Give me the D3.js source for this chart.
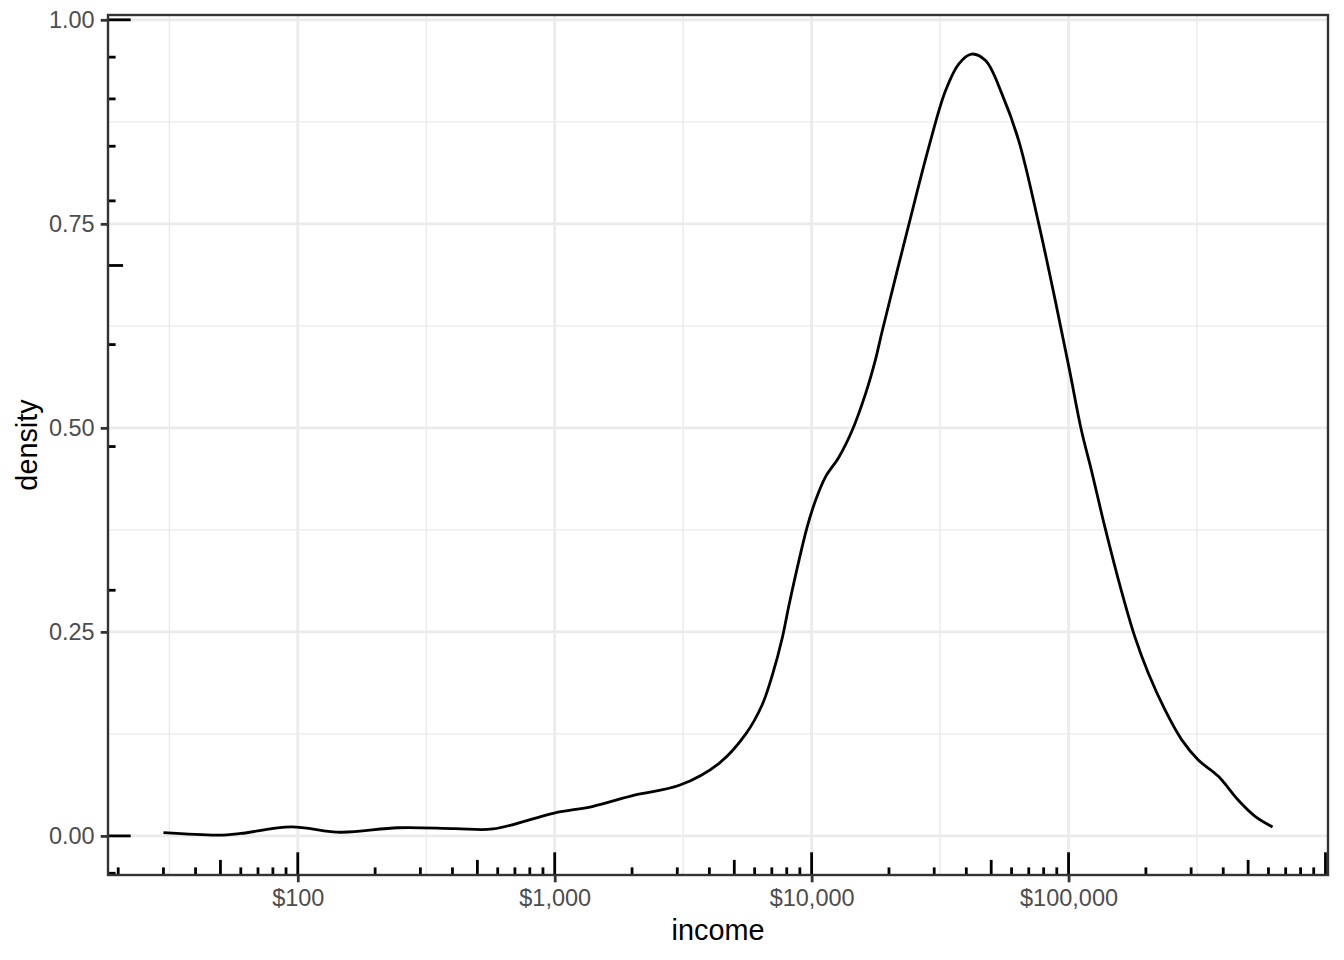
<!DOCTYPE html>
<html>
<head>
<meta charset="utf-8">
<script src="https://cdn.jsdelivr.net/npm/d3@7"></script>
<style>
  body { margin: 0; background: #fff; }
  svg { display: block; font-family: "Liberation Sans", Arial, sans-serif; }
  .axis text { fill: #4D4D4D; font-size: 23.5px; }
  .axis line { stroke: #333333; stroke-width: 2.8px; }
  .axis path { display: none; }
</style>
</head>
<body>
<svg></svg>
<script>
// density of income
var income = [30, 49, 60, 94, 147, 246, 410, 575, 995, 1400, 2042, 3055, 4365, 5546,
  6427, 7031, 7691, 8166, 8933, 9616, 10351, 11324, 12764, 14388, 16218, 17701, 18836,
  23933, 28576, 33189, 37411, 41879, 47534, 55081, 63973, 76560, 88920, 100693,
  112202, 122744, 138357, 160694, 181134, 204644, 237684, 275423, 319890, 382825,
  457088, 532108, 622300];
var density = [0.004, 0.001, 0.003, 0.011, 0.0045, 0.010, 0.009, 0.0085, 0.028, 0.036,
  0.050, 0.062, 0.089, 0.125, 0.161, 0.197, 0.243, 0.283, 0.338, 0.379, 0.411, 0.440,
  0.464, 0.497, 0.542, 0.583, 0.619, 0.750, 0.844, 0.913, 0.946, 0.958, 0.950, 0.909,
  0.852, 0.750, 0.655, 0.572, 0.497, 0.448, 0.379, 0.300, 0.244, 0.199, 0.154, 0.118,
  0.093, 0.073, 0.044, 0.024, 0.011];

var xBreaks = [100, 1000, 10000, 100000];
var xMinor = [Math.pow(10, 1.5), Math.pow(10, 2.5), Math.pow(10, 3.5), Math.pow(10, 4.5), Math.pow(10, 5.5)];
var yBreaks = [0, 0.25, 0.5, 0.75, 1.0];
var yMinor = [0.125, 0.375, 0.625, 0.875];
var logMult = [1, 2, 3, 4, 5, 6, 7, 8, 9];

(function () {
  var width = 1344, height = 960;
  var margin = {top: 15, right: 16, bottom: 85, left: 108};
  var pw = width - margin.left - margin.right;
  var ph = height - margin.top - margin.bottom;

  var svg = d3.select("svg").attr("width", width).attr("height", height);
  var g = svg.append("g").attr("transform", "translate(" + margin.left + "," + margin.top + ")");

  // ggplot style 5% expansion
  var lx = d3.extent(income, function(d) { return Math.log10(d); });
  var ex = (lx[1] - lx[0]) * 0.05;
  var x = d3.scaleLog()
        .domain([Math.pow(10, lx[0] - ex), Math.pow(10, lx[1] + ex)])
        .range([0, pw]);
  var ymax = d3.max(density);
  var y = d3.scaleLinear()
        .domain([-ymax * 0.05, ymax * 1.05])
        .range([ph, 0]);

  var grid = g.append("g").attr("stroke", "#EBEBEB");
  grid.selectAll(".yminor").data(yMinor).enter().append("line")
    .attr("x1", 0).attr("x2", pw)
    .attr("y1", function(d) { return y(d); }).attr("y2", function(d) { return y(d); })
    .attr("stroke-width", 1.4);
  grid.selectAll(".xminor").data(xMinor).enter().append("line")
    .attr("y1", 0).attr("y2", ph)
    .attr("x1", function(d) { return x(d); }).attr("x2", function(d) { return x(d); })
    .attr("stroke-width", 1.4);
  grid.selectAll(".ymajor").data(yBreaks).enter().append("line")
    .attr("x1", 0).attr("x2", pw)
    .attr("y1", function(d) { return y(d); }).attr("y2", function(d) { return y(d); })
    .attr("stroke-width", 2.8);
  grid.selectAll(".xmajor").data(xBreaks).enter().append("line")
    .attr("y1", 0).attr("y2", ph)
    .attr("x1", function(d) { return x(d); }).attr("x2", function(d) { return x(d); })
    .attr("stroke-width", 2.8);

  var line = d3.line()
        .x(function(d, i) { return x(income[i]); })
        .y(function(d) { return y(d); })
        .curve(d3.curveCatmullRom.alpha(0.5));

  g.append("path")
    .datum(density)
    .attr("fill", "none")
    .attr("stroke", "#000")
    .attr("stroke-width", 2.8)
    .attr("d", line);

  // log ticks (annotation_logticks style)
  function tickLen(k) { return k === 1 ? 22.7 : (k === 5 ? 15.1 : 7.6); }
  var bx = [];
  for (var n = 0; n <= 7; n++) {
    logMult.forEach(function(k) {
      var v = k * Math.pow(10, n);
      if (v >= x.domain()[0] && v <= x.domain()[1] * 1.0001) bx.push({v: v, k: k});
    });
  }
  g.append("g").selectAll("line").data(bx).enter().append("line")
    .attr("x1", function(d) { return x(d.v); }).attr("x2", function(d) { return x(d.v); })
    .attr("y1", ph).attr("y2", function(d) { return ph - tickLen(d.k); })
    .attr("stroke", "#000").attr("stroke-width", 2.8);

  var ly = [];
  for (var m = -2; m <= 1; m++) {
    logMult.forEach(function(k) {
      var v = Math.log10(k * Math.pow(10, m));
      if (v >= y.domain()[0] && v <= y.domain()[1]) ly.push({v: v, k: k});
    });
  }
  g.append("g").selectAll("line").data(ly).enter().append("line")
    .attr("y1", function(d) { return y(d.v); }).attr("y2", function(d) { return y(d.v); })
    .attr("x1", 0).attr("x2", function(d) { return tickLen(d.k); })
    .attr("stroke", "#000").attr("stroke-width", 2.8);

  // panel border
  g.append("rect")
    .attr("width", pw).attr("height", ph)
    .attr("fill", "none").attr("stroke", "#333333").attr("stroke-width", 2.4);

  g.append("g")
    .attr("class", "axis")
    .attr("transform", "translate(0," + ph + ")")
    .call(d3.axisBottom(x).tickValues(xBreaks).tickSize(7.3).tickPadding(6)
          .tickFormat(d3.format("$,")))
    .selectAll("text").attr("dy", "0.75em");

  g.append("g")
    .attr("class", "axis")
    .call(d3.axisLeft(y).tickValues(yBreaks).tickSize(7.3).tickPadding(6)
          .tickFormat(d3.format(".2f")));

  svg.append("text")
    .attr("x", margin.left + pw / 2)
    .attr("y", 940)
    .attr("text-anchor", "middle")
    .attr("font-size", "28.8px")
    .text("income");

  svg.append("text")
    .attr("transform", "translate(37," + (margin.top + ph / 2) + ") rotate(-90)")
    .attr("text-anchor", "middle")
    .attr("font-size", "28.8px")
    .text("density");
})();
</script>
</body>
</html>
